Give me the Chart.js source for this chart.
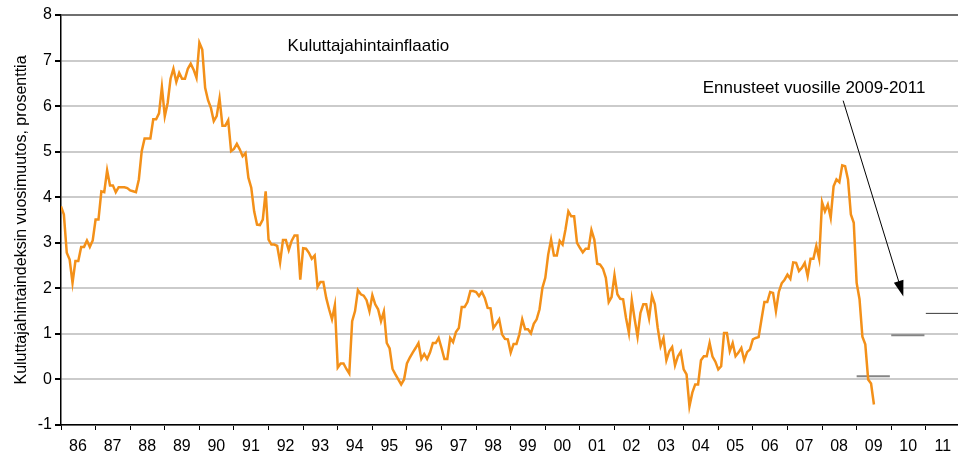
<!DOCTYPE html>
<html lang="fi">
<head>
    <meta charset="UTF-8">
    <title>Kuluttajahintainflaatio</title>
    <script src="https://cdn.jsdelivr.net/npm/chart.js"></script>
    <style>
        html, body { margin: 0; padding: 0; background: #fff; }
        #wrap { width: 958px; height: 455px; }
    </style>
</head>
<body>
    <div id="wrap"><canvas id="inflChart"></canvas></div>

    <script>
        // kuukausittainen inflaatio, tammikuu 1986 alkaen
        const startYear = 1986;
        const inflation = [
            3.80, 3.62, 2.78, 2.63, 2.12, 2.60, 2.60, 2.91, 2.91, 3.05, 2.91, 3.05,   // 1986
            3.51, 3.51, 4.13, 4.11, 4.59, 4.26, 4.26, 4.11, 4.22, 4.22, 4.22, 4.20,   // 1987
            4.15, 4.13, 4.11, 4.39, 5.01, 5.29, 5.29, 5.29, 5.71, 5.71, 5.84, 6.42,   // 1988
            5.78, 6.07, 6.60, 6.82, 6.53, 6.73, 6.60, 6.60, 6.82, 6.93, 6.80, 6.62,   // 1989
            7.39, 7.24, 6.40, 6.13, 5.96, 5.67, 5.78, 6.17, 5.57, 5.57, 5.69, 5.01,   // 1990
            5.06, 5.17, 5.05, 4.90, 4.97, 4.43, 4.21, 3.69, 3.40, 3.39, 3.51, 4.13,   // 1991
            3.07, 2.96, 2.96, 2.93, 2.57, 3.06, 3.06, 2.84, 3.04, 3.16, 3.16, 2.19,   // 1992
            2.88, 2.87, 2.78, 2.65, 2.72, 2.03, 2.14, 2.14, 1.79, 1.54, 1.32, 1.63,   // 1993
            0.26, 0.35, 0.35, 0.23, 0.13, 1.28, 1.50, 1.96, 1.87, 1.84, 1.74, 1.50,   // 1994
            1.85, 1.65, 1.54, 1.28, 1.49, 0.80, 0.68, 0.23, 0.11, 0.00, -0.11, 0.00,  // 1995
            0.35, 0.48, 0.59, 0.69, 0.80, 0.45, 0.56, 0.45, 0.59, 0.80, 0.80, 0.91,   // 1996
            0.69, 0.45, 0.45, 0.91, 0.82, 1.04, 1.13, 1.59, 1.59, 1.70, 1.94, 1.94,   // 1997
            1.92, 1.83, 1.92, 1.79, 1.57, 1.56, 1.13, 1.22, 1.32, 0.99, 0.89, 0.88,   // 1998
            0.59, 0.78, 0.78, 0.99, 1.32, 1.10, 1.10, 1.01, 1.22, 1.32, 1.54, 2.01,   // 1999
            2.23, 2.74, 3.07, 2.72, 2.72, 3.04, 2.96, 3.29, 3.69, 3.58, 3.58, 3.00,   // 2000
            2.89, 2.79, 2.87, 2.87, 3.28, 3.07, 2.54, 2.52, 2.43, 2.23, 1.70, 1.81,   // 2001
            2.29, 1.87, 1.77, 1.76, 1.35, 1.02, 1.74, 1.32, 0.94, 1.46, 1.65, 1.65,   // 2002
            1.34, 1.84, 1.65, 1.13, 0.73, 0.91, 0.42, 0.62, 0.71, 0.31, 0.51, 0.61,   // 2003
            0.22, 0.11, -0.59, -0.29, -0.11, -0.11, 0.42, 0.51, 0.51, 0.80, 0.50, 0.39, // 2004
            0.22, 0.29, 1.02, 1.02, 0.62, 0.80, 0.51, 0.59, 0.69, 0.42, 0.60, 0.66,   // 2005
            0.88, 0.91, 0.93, 1.32, 1.70, 1.70, 1.92, 1.90, 1.50, 1.92, 2.11, 2.19,   // 2006
            2.30, 2.21, 2.57, 2.56, 2.38, 2.45, 2.56, 2.27, 2.65, 2.65, 2.93, 2.65,   // 2007
            3.89, 3.69, 3.84, 3.55, 4.24, 4.39, 4.33, 4.70, 4.68, 4.39, 3.62, 3.44,   // 2008
            2.12, 1.76, 0.94, 0.77, 0.00, -0.09, -0.55                                // 2009
        ];

        // ennusteet vuosille 2009-2011
        const forecastYears = [2009, 2010, 2011];
        const forecastValues = [0.07, 0.97, 1.45];
        const forecastColors = ['#858585', '#858585', '#3a3a3a'];
        const forecastWidths = [2, 2, 1];

        const tickYears = [1986, 1987, 1988, 1989, 1990, 1991, 1992, 1993, 1994, 1995, 1996, 1997, 1998,
                           1999, 2000, 2001, 2002, 2003, 2004, 2005, 2006, 2007, 2008, 2009, 2010, 2011];
        const tickLabels = ['86', '87', '88', '89', '90', '91', '92', '93', '94', '95', '96', '97', '98',
                            '99', '00', '01', '02', '03', '04', '05', '06', '07', '08', '09', '10', '11'];

        const FONT = 'Liberation Sans, Arial, sans-serif';

        let monthly = inflation.map((v, i) => ({ x: startYear + i / 12, y: v }));

        let datasets = [{
            data: monthly,
            borderColor: '#f39019',
            borderWidth: 2.5,
            pointRadius: 0,
            tension: 0
        }];
        forecastYears.forEach((yr, i) => {
            datasets.push({
                data: [{ x: yr, y: forecastValues[i] }, { x: yr + 0.96, y: forecastValues[i] }],
                borderColor: forecastColors[i],
                borderWidth: forecastWidths[i],
                pointRadius: 0
            });
        });

        // tekstit ja nuoli
        const notes = {
            id: 'notes',
            afterDatasetsDraw(chart) {
                let ctx = chart.ctx;
                let xs = chart.scales.x, ys = chart.scales.y;
                ctx.save();
                ctx.fillStyle = '#000';
                ctx.font = '17px ' + FONT;
                ctx.textBaseline = 'middle';
                ctx.fillText('Kuluttajahintainflaatio', xs.getPixelForValue(1992.55), ys.getPixelForValue(7.32));
                ctx.fillText('Ennusteet vuosille 2009-2011', xs.getPixelForValue(2004.55), ys.getPixelForValue(6.4));

                let x1 = xs.getPixelForValue(2008.61), y1 = ys.getPixelForValue(6.12);
                let x2 = xs.getPixelForValue(2010.35), y2 = ys.getPixelForValue(1.82);
                let ang = Math.atan2(y2 - y1, x2 - x1);
                ctx.strokeStyle = '#000';
                ctx.lineWidth = 1;
                ctx.beginPath();
                ctx.moveTo(x1, y1);
                ctx.lineTo(x2 - 10 * Math.cos(ang), y2 - 10 * Math.sin(ang));
                ctx.stroke();
                ctx.beginPath();
                ctx.moveTo(x2, y2);
                ctx.lineTo(x2 - 16 * Math.cos(ang) + 5 * Math.sin(ang), y2 - 16 * Math.sin(ang) - 5 * Math.cos(ang));
                ctx.lineTo(x2 - 16 * Math.cos(ang) - 5 * Math.sin(ang), y2 - 16 * Math.sin(ang) + 5 * Math.cos(ang));
                ctx.closePath();
                ctx.fill();
                ctx.restore();
            }
        };

        new Chart(document.getElementById('inflChart'), {
            type: 'line',
            data: { datasets: datasets },
            plugins: [notes],
            options: {
                responsive: true,
                maintainAspectRatio: false,
                animation: false,
                layout: { padding: { top: 15, right: 0, left: 0, bottom: 0 } },
                plugins: { legend: { display: false }, tooltip: { enabled: false } },
                scales: {
                    x: {
                        type: 'linear',
                        min: 1986,
                        max: 2011.93,
                        afterBuildTicks: (s) => { s.ticks = tickYears.map(v => ({ value: v })); },
                        afterFit: (s) => { s.height = 30; },
                        grid: { drawOnChartArea: false, tickLength: 5, tickColor: '#000' },
                        border: { color: '#000', width: 1.5 },
                        ticks: {
                            autoSkip: false,
                            maxRotation: 0,
                            labelOffset: 17,
                            padding: 7,
                            color: '#000',
                            font: { family: FONT, size: 16 },
                            callback: (v, i) => tickLabels[i]
                        }
                    },
                    y: {
                        min: -1,
                        max: 8,
                        afterFit: (s) => { s.width = 61; },
                        grid: {
                            color: (c) => c.tick && c.tick.value === 8 ? '#6f6f6f' : '#cbcbcb',
                            lineWidth: 2,
                            tickLength: 6,
                            tickColor: '#000'
                        },
                        border: { color: '#000', width: 1.5 },
                        ticks: {
                            stepSize: 1,
                            padding: 3,
                            color: '#000',
                            font: { family: FONT, size: 16 }
                        },
                        title: {
                            display: true,
                            text: 'Kuluttajahintaindeksin vuosimuutos, prosenttia',
                            color: '#000',
                            font: { family: FONT, size: 16 },
                            padding: { top: 12, bottom: 0 }
                        }
                    }
                }
            }
        });
    </script>
</body>
</html>
